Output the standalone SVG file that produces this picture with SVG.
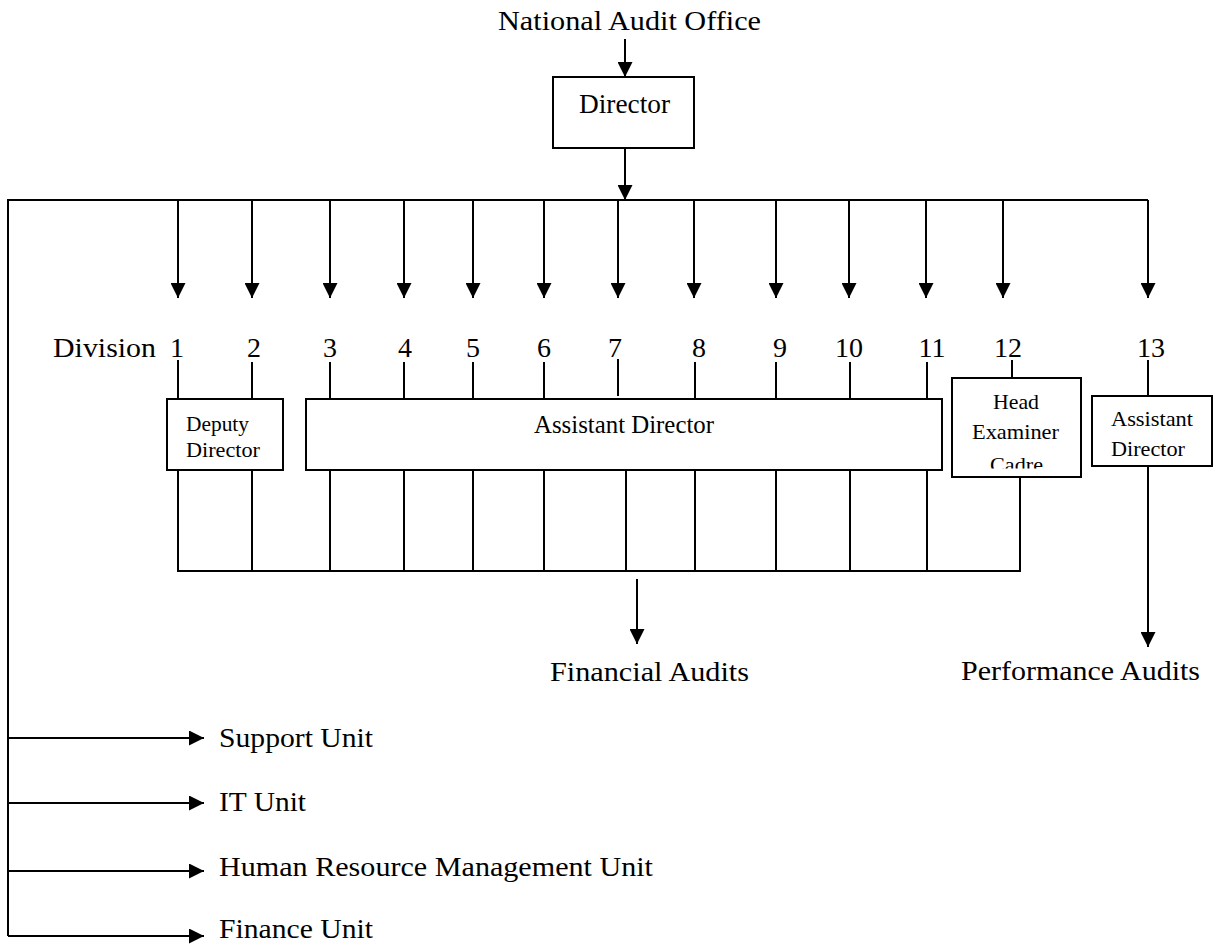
<svg xmlns="http://www.w3.org/2000/svg" width="1214" height="945" viewBox="0 0 1214 945">
  <style>
    .ln { stroke: #000; stroke-width: 2; fill: none; }
    .arr { stroke: #000; stroke-width: 2; fill: none; marker-end: url(#head); }
    .box { stroke: #000; stroke-width: 2; fill: #fff; }
    text { font-family: "Liberation Serif", "Times New Roman", serif; fill: #000; }
    .big { font-size: 28px; }
    .num { font-size: 28px; text-anchor: middle; }
    .small { font-size: 22px; }
  </style>
  <defs>
    <marker id="head" markerUnits="userSpaceOnUse" markerWidth="15" markerHeight="15" viewBox="0 0 15 15" refX="15" refY="7.5" orient="auto">
      <path d="M0,0 L15,7.5 L0,15 z" fill="#000"/>
    </marker>
    <clipPath id="cadreClip">
      <rect x="952" y="379" width="128" height="89.5"/>
    </clipPath>
  </defs>

  <!-- connectors -->
  <g id="connectors">
    <!-- office to director, director to bus -->
    <line class="arr" x1="625" y1="39" x2="625" y2="77"/>
    <line class="arr" x1="625" y1="148" x2="625" y2="200"/>
    <!-- main horizontal bus and left spine -->
    <polyline class="ln" points="1148,200 8,200 8,936"/>
    <!-- division drops -->
    <line class="arr" x1="178" y1="200" x2="178" y2="298"/>
    <line class="arr" x1="252" y1="200" x2="252" y2="298"/>
    <line class="arr" x1="330" y1="200" x2="330" y2="298"/>
    <line class="arr" x1="404" y1="200" x2="404" y2="298"/>
    <line class="arr" x1="473" y1="200" x2="473" y2="298"/>
    <line class="arr" x1="544" y1="200" x2="544" y2="298"/>
    <line class="arr" x1="618" y1="200" x2="618" y2="298"/>
    <line class="arr" x1="694" y1="200" x2="694" y2="298"/>
    <line class="arr" x1="776" y1="200" x2="776" y2="298"/>
    <line class="arr" x1="849" y1="200" x2="849" y2="298"/>
    <line class="arr" x1="926" y1="200" x2="926" y2="298"/>
    <line class="arr" x1="1003" y1="200" x2="1003" y2="298"/>
    <line class="arr" x1="1148" y1="200" x2="1148" y2="298"/>
    <!-- division number ticks down to boxes -->
    <line class="ln" x1="178" y1="360" x2="178" y2="399"/>
    <line class="ln" x1="252" y1="362" x2="252" y2="399"/>
    <line class="ln" x1="330" y1="362" x2="330" y2="399"/>
    <line class="ln" x1="404" y1="362" x2="404" y2="399"/>
    <line class="ln" x1="473" y1="362" x2="473" y2="399"/>
    <line class="ln" x1="544" y1="362" x2="544" y2="399"/>
    <line class="ln" x1="618" y1="359" x2="618" y2="396"/>
    <line class="ln" x1="695" y1="362" x2="695" y2="399"/>
    <line class="ln" x1="776" y1="362" x2="776" y2="399"/>
    <line class="ln" x1="850" y1="362" x2="850" y2="399"/>
    <line class="ln" x1="927" y1="362" x2="927" y2="399"/>
    <line class="ln" x1="1012" y1="360" x2="1012" y2="378"/>
    <line class="ln" x1="1148" y1="360" x2="1148" y2="396"/>
    <!-- drops from boxes to the financial audit bus -->
    <line class="ln" x1="178" y1="470" x2="178" y2="571"/>
    <line class="ln" x1="252" y1="470" x2="252" y2="571"/>
    <line class="ln" x1="330" y1="470" x2="330" y2="571"/>
    <line class="ln" x1="404" y1="470" x2="404" y2="571"/>
    <line class="ln" x1="473" y1="470" x2="473" y2="571"/>
    <line class="ln" x1="544" y1="470" x2="544" y2="571"/>
    <line class="ln" x1="626" y1="470" x2="626" y2="571"/>
    <line class="ln" x1="695" y1="470" x2="695" y2="571"/>
    <line class="ln" x1="776" y1="470" x2="776" y2="571"/>
    <line class="ln" x1="850" y1="470" x2="850" y2="571"/>
    <line class="ln" x1="927" y1="470" x2="927" y2="571"/>
    <line class="ln" x1="1020" y1="477" x2="1020" y2="571"/>
    <line class="ln" x1="177" y1="571" x2="1021" y2="571"/>
    <!-- outputs -->
    <line class="arr" x1="637" y1="579" x2="637" y2="644"/>
    <line class="arr" x1="1148" y1="466" x2="1148" y2="647"/>
    <!-- units off the left spine -->
    <line class="arr" x1="8" y1="738" x2="204" y2="738"/>
    <line class="arr" x1="8" y1="803" x2="204" y2="803"/>
    <line class="arr" x1="8" y1="871" x2="204" y2="871"/>
    <line class="arr" x1="8" y1="936" x2="204" y2="936"/>
  </g>

  <g id="office">
    <text class="big" x="498" y="30" textLength="263" lengthAdjust="spacingAndGlyphs">National Audit Office</text>
  </g>

  <g id="director">
    <rect class="box" x="553" y="77" width="141" height="71"/>
    <text x="579" y="113" font-size="27" textLength="91" lengthAdjust="spacingAndGlyphs">Director</text>
  </g>

  <g id="division-labels">
    <text class="big" x="53" y="357" textLength="103" lengthAdjust="spacingAndGlyphs">Division</text>
    <text class="num" x="177" y="357">1</text>
    <text class="num" x="254" y="357">2</text>
    <text class="num" x="330" y="357">3</text>
    <text class="num" x="405" y="357">4</text>
    <text class="num" x="473" y="357">5</text>
    <text class="num" x="544" y="357">6</text>
    <text class="num" x="615" y="357">7</text>
    <text class="num" x="699" y="357">8</text>
    <text class="num" x="780" y="357">9</text>
    <text class="num" x="849" y="357">10</text>
    <text class="num" x="932" y="357">11</text>
    <text class="num" x="1008" y="357">12</text>
    <text class="num" x="1151" y="357">13</text>
  </g>

  <g id="deputy-director">
    <rect class="box" x="167" y="399" width="116" height="71"/>
    <text class="small" x="186" y="431" textLength="63" lengthAdjust="spacingAndGlyphs">Deputy</text>
    <text class="small" x="186" y="457" textLength="74" lengthAdjust="spacingAndGlyphs">Director</text>
  </g>

  <g id="assistant-director">
    <rect class="box" x="306" y="399" width="636" height="71"/>
    <text x="534" y="433" font-size="25" textLength="180" lengthAdjust="spacingAndGlyphs">Assistant Director</text>
  </g>

  <g id="head-examiner">
    <rect class="box" x="952" y="378" width="129" height="99"/>
    <g clip-path="url(#cadreClip)">
      <text class="small" x="993" y="409" textLength="46" lengthAdjust="spacingAndGlyphs">Head</text>
      <text class="small" x="972" y="439" textLength="87" lengthAdjust="spacingAndGlyphs">Examiner</text>
      <text class="small" x="990" y="472" textLength="53" lengthAdjust="spacingAndGlyphs">Cadre</text>
    </g>
  </g>

  <g id="assistant-director-13">
    <rect class="box" x="1092" y="396" width="120" height="70"/>
    <text class="small" x="1111" y="426" textLength="82" lengthAdjust="spacingAndGlyphs">Assistant</text>
    <text class="small" x="1111" y="456" textLength="74" lengthAdjust="spacingAndGlyphs">Director</text>
  </g>

  <g id="financial-audits">
    <text class="big" x="550" y="681" textLength="199" lengthAdjust="spacingAndGlyphs">Financial Audits</text>
  </g>

  <g id="performance-audits">
    <text class="big" x="961" y="680" textLength="239" lengthAdjust="spacingAndGlyphs">Performance Audits</text>
  </g>

  <g id="support-unit">
    <text class="big" x="219" y="747" textLength="154" lengthAdjust="spacingAndGlyphs">Support Unit</text>
  </g>
  <g id="it-unit">
    <text class="big" x="219" y="811" textLength="87" lengthAdjust="spacingAndGlyphs">IT Unit</text>
  </g>
  <g id="hrm-unit">
    <text class="big" x="219" y="876" textLength="434" lengthAdjust="spacingAndGlyphs">Human Resource Management Unit</text>
  </g>
  <g id="finance-unit">
    <text class="big" x="219" y="938" textLength="154" lengthAdjust="spacingAndGlyphs">Finance Unit</text>
  </g>
</svg>
